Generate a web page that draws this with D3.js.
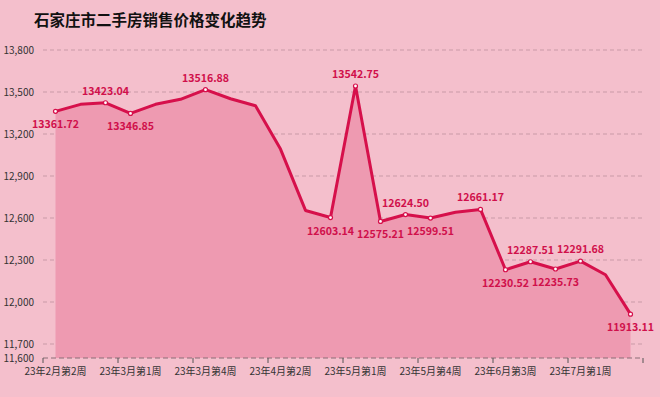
<!DOCTYPE html>
<html>
<head>
<meta charset="utf-8">
<script src="https://d3js.org/d3.v7.min.js"></script>
<style>
  body { margin: 0; background: #f4bfcc; }
  svg { display: block; font-family: "Noto Sans CJK SC", "Noto Sans", sans-serif; }
</style>
</head>
<body>
<div class="home"></div>
<script>
    // weekly second-hand housing price (yuan / m2)
    const weeks = [
        "23年2月第2周", "23年2月第3周", "23年2月第4周",
        "23年3月第1周", "23年3月第2周", "23年3月第3周",
        "23年3月第4周", "23年3月第5周", "23年4月第1周",
        "23年4月第2周", "23年4月第3周", "23年4月第4周",
        "23年5月第1周", "23年5月第2周", "23年5月第3周",
        "23年5月第4周", "23年6月第1周", "23年6月第2周",
        "23年6月第3周", "23年6月第4周", "23年6月第5周",
        "23年7月第1周", "23年7月第2周", "23年7月第3周"
    ];
    const prices = [
        13361.72, 13412, 13423.04, 13346.85, 13412, 13448,
        13516.88, 13452, 13402, 13092, 12654, 12603.14,
        13542.75, 12575.21, 12624.50, 12599.51, 12641, 12661.17,
        12230.52, 12287.51, 12235.73, 12291.68, 12195, 11913.11
    ];
    // which points get a value label, and where ("up" / "down")
    const labelled = {0: "down", 2: "up", 3: "down", 6: "up", 11: "down", 12: "up",
        13: "down", 14: "up", 15: "down", 17: "up", 18: "down", 19: "up",
        20: "down", 21: "up", 23: "down"};
    const yTicks = [11700, 12000, 12300, 12600, 12900, 13200, 13500, 13800];

    const width = 660, height = 397;
    const margin = {top: 50, right: 17, bottom: 39, left: 43};

    const svg = d3.select(".home").append("svg")
        .attr("width", width)
        .attr("height", height);

    svg.append("rect").attr("width", width).attr("height", height).attr("fill", "#f4bfcc");

    svg.append("text")
        .attr("x", 34).attr("y", 26)
        .attr("font-size", 15.5).attr("font-weight", "bold")
        .attr("fill", "#111")
        .text("石家庄市二手房销售价格变化趋势");

    const x = d3.scaleBand()
        .domain(weeks)
        .range([margin.left, width - margin.right]);

    const y = d3.scaleLinear()
        .domain([11600, 13800])
        .range([height - margin.bottom, margin.top]);

    const cx = d => x(d) + x.bandwidth() / 2;

    // grid lines
    svg.append("g").selectAll("line")
        .data(yTicks)
        .enter().append("line")
        .attr("x1", margin.left).attr("x2", width - margin.right)
        .attr("y1", d => y(d)).attr("y2", d => y(d))
        .attr("stroke", "#c99aa7")
        .attr("stroke-dasharray", "4,3");

    // y labels (the min value is shown too)
    svg.append("g").selectAll("text")
        .data([11600].concat(yTicks))
        .enter().append("text")
        .attr("x", 34).attr("y", d => y(d) + 3.5)
        .attr("text-anchor", "end")
        .attr("font-size", 10)
        .attr("fill", "#333")
        .text(d => d3.format(",")(d));

    // area + line
    const area = d3.area()
        .x((d, i) => cx(weeks[i]))
        .y0(y(11600))
        .y1(d => y(d));
    svg.append("path")
        .datum(prices)
        .attr("d", area)
        .attr("fill", "#ee9ab1");

    // bottom axis
    const axisY = y(11600);
    svg.append("line")
        .attr("x1", margin.left).attr("x2", width - margin.right)
        .attr("y1", axisY).attr("y2", axisY)
        .attr("stroke", "#8a6f76")
        .attr("stroke-dasharray", "5,3");

    const tickIdx = d3.range(0, weeks.length + 1, 3);
    svg.append("g").selectAll("line")
        .data(tickIdx)
        .enter().append("line")
        .attr("x1", i => margin.left + i * x.step()).attr("x2", i => margin.left + i * x.step())
        .attr("y1", axisY).attr("y2", axisY + 5)
        .attr("stroke", "#555");

    svg.append("g").selectAll("text")
        .data(weeks.filter((d, i) => i % 3 === 0))
        .enter().append("text")
        .attr("x", d => cx(d)).attr("y", axisY + 17)
        .attr("text-anchor", "middle")
        .attr("font-size", 10)
        .attr("fill", "#333")
        .text(d => d);

    const line = d3.line()
        .x((d, i) => cx(weeks[i]))
        .y(d => y(d));
    svg.append("path")
        .datum(prices)
        .attr("d", line)
        .attr("fill", "none")
        .attr("stroke", "#d6104b")
        .attr("stroke-width", 3)
        .attr("stroke-linejoin", "round");

    const marks = Object.keys(labelled).map(Number);

    svg.append("g").selectAll("circle")
        .data(marks)
        .enter().append("circle")
        .attr("cx", i => cx(weeks[i])).attr("cy", i => y(prices[i]))
        .attr("r", 2)
        .attr("fill", "#fff")
        .attr("stroke", "#d6104b")
        .attr("stroke-width", 1.2);

    svg.append("g").selectAll("text")
        .data(marks)
        .enter().append("text")
        .attr("x", i => cx(weeks[i]))
        .attr("y", i => y(prices[i]) + (labelled[i] === "up" ? -8 : 17))
        .attr("text-anchor", "middle")
        .attr("font-size", 10.6)
        .attr("font-weight", "bold")
        .attr("fill", "#d0104b")
        .text(i => prices[i].toFixed(2));
</script>
</body>
</html>
